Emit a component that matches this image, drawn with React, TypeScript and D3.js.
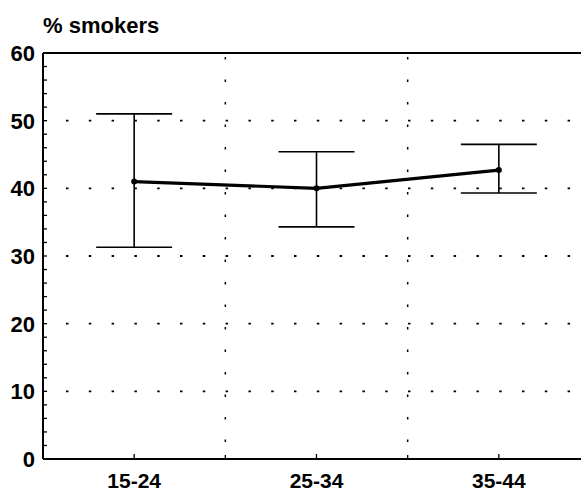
import React from 'react';
import * as d3 from 'd3';

// age groups and % smokers with error bars
const groups = ['15-24', '25-34', '35-44'];
const means = [41, 40, 42.7];
const lows = [31.3, 34.3, 39.3];
const highs = [51, 45.4, 46.5];
const yTicks = [0, 10, 20, 30, 40, 50, 60];
const minorTicks = d3.range(0, 61, 2);

const App = () => {
  const margin = { top: 53, right: -9, bottom: 32, left: 43 };
  const width = 581;
  const height = 491;

  const x = d3.scalePoint()
    .domain(groups)
    .range([margin.left, width - margin.right])
    .padding(0.5);
  const step = x.step();

  const y = d3.scaleLinear()
    .domain([0, 60])
    .range([height - margin.bottom, margin.top]);

  const line = d3.line<number>()
    .x((d, i) => x(groups[i]) as number)
    .y(d => y(d));

  const bounds = groups.slice(1).map(g => (x(g) as number) - step / 2);
  const font = 'Liberation Sans, Arial, sans-serif';
  const capHalf = 38;

  return (
    <svg width={width} height={height} style={{ position: 'absolute', left: 0, top: 0 }}>
      <rect width={width} height={height} fill="#fff" />
      {/* grid */}
      {yTicks.filter(t => t > 0 && t < 60).map(t => (
        <line key={'h' + t} x1={margin.left + 3} x2={width} y1={y(t)} y2={y(t)}
          stroke="#000" strokeWidth={1.8} strokeDasharray="2.5,20.3" strokeDashoffset={-20} />
      ))}
      {bounds.map((b, i) => (
        <line key={'v' + i} x1={b} x2={b} y1={y(60)} y2={y(0)}
          stroke="#000" strokeWidth={1.5} strokeDasharray="2.5,20" strokeDashoffset={-4} />
      ))}
      {/* axes */}
      <line x1={margin.left} x2={width} y1={y(60)} y2={y(60)} stroke="#000" strokeWidth={2} />
      <line x1={margin.left} x2={width} y1={y(0)} y2={y(0)} stroke="#000" strokeWidth={2.2} />
      <line x1={margin.left} x2={margin.left} y1={y(60)} y2={y(0)} stroke="#000" strokeWidth={2} />
      {minorTicks.map(t => (
        <line key={'m' + t} x1={margin.left} x2={margin.left + 4} y1={y(t)} y2={y(t)} stroke="#000" strokeWidth={1.3} />
      ))}
      {groups.map(g => (
        <line key={'xt' + g} x1={x(g)} x2={x(g)} y1={y(0)} y2={y(0) - 5} stroke="#000" strokeWidth={1.3} />
      ))}
      {bounds.map((b, i) => (
        <line key={'xb' + i} x1={b} x2={b} y1={y(0)} y2={y(0) - 4} stroke="#000" strokeWidth={1.3} />
      ))}
      {yTicks.map(t => (
        <text key={'yl' + t} x={35} y={y(t)} dy="0.36em" textAnchor="end"
          fontFamily={font} fontWeight="bold" fontSize={22}>{t}</text>
      ))}
      {groups.map(g => (
        <text key={'xl' + g} x={x(g)} y={488} textAnchor="middle"
          fontFamily={font} fontWeight="bold" fontSize={21}>{g}</text>
      ))}
      <text x={43} y={33} fontFamily={font} fontWeight="bold" fontSize={22}>% smokers</text>
      {/* error bars */}
      {groups.map((g, i) => (
        <g key={'e' + g} stroke="#000" strokeWidth={1.6}>
          <line x1={x(g)} x2={x(g)} y1={y(lows[i])} y2={y(highs[i])} />
          <line x1={(x(g) as number) - capHalf} x2={(x(g) as number) + capHalf} y1={y(highs[i])} y2={y(highs[i])} />
          <line x1={(x(g) as number) - capHalf} x2={(x(g) as number) + capHalf} y1={y(lows[i])} y2={y(lows[i])} />
        </g>
      ))}
      <path d={line(means) || ''} fill="none" stroke="#000" strokeWidth={3.2} />
      {means.map((m, i) => (
        <circle key={'c' + i} cx={x(groups[i])} cy={y(m)} r={3} fill="#000" />
      ))}
    </svg>
  );
};

export default App;
